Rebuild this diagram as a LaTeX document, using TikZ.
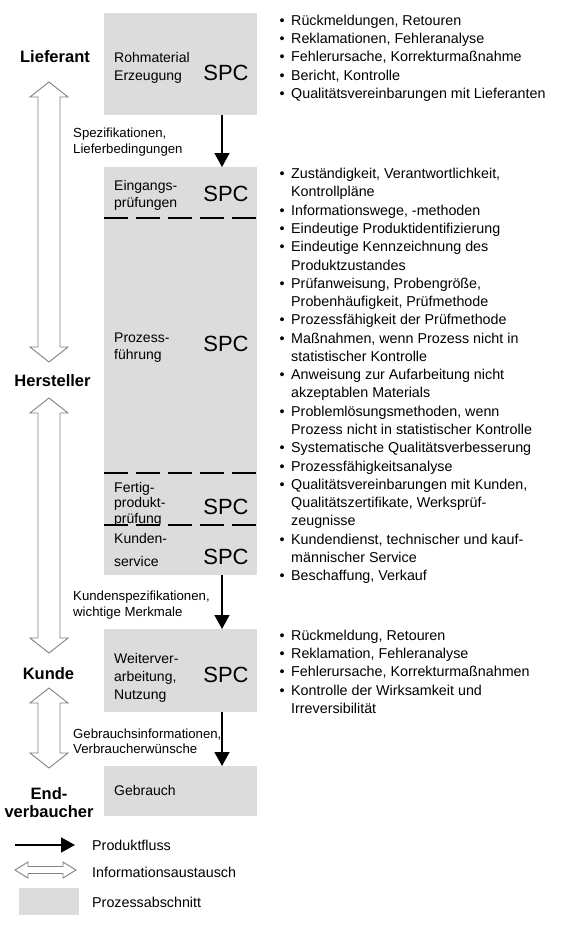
\documentclass[tikz,border=0pt]{standalone}
\usepackage{fontspec}
\setmainfont{Liberation Sans}
\usetikzlibrary{arrows.meta}
\definecolor{boxgray}{RGB}{220,220,220}
\definecolor{infogray}{RGB}{130,130,130}
\newcommand\bu{\makebox[11.5pt][l]{\textbullet}}
\newcommand\ct{\hspace*{11.5pt}}
\newcommand\infoarrowv[3]{%
  \draw[info] (#1,#2) -- ++(19,15) -- ++(-8,0) -- (#1+11,#3-15) -- ++(8,0) -- (#1,#3)
    -- ++(-19,-15) -- ++(8,0) -- (#1-11,#2+15) -- ++(-8,0) -- cycle;}
\begin{document}
\begin{tikzpicture}[x=1pt,y=-1pt,
  box/.style={fill=boxgray, draw=none, inner sep=0pt, anchor=north west},
  flow/.style={draw=black, line width=1.5pt, -{Triangle[width=15pt,length=14pt]}},
  sepline/.style={draw=black, line width=1.3pt, dash pattern=on 24pt off 8pt},
  info/.style={draw=infogray, line width=0.9pt, fill=white},
  txt/.style={anchor=north west, inner sep=0pt, align=left},
  spc/.style={anchor=base, inner sep=0pt, font=\fontsize{22}{22}\selectfont},
  party/.style={anchor=base, inner sep=0pt, font=\fontsize{16.5}{18}\selectfont\bfseries},
  single/.style={anchor=base west, inner sep=0pt, font=\fontsize{14.3}{17}\selectfont}
]
\fill[white] (0,0) rectangle (562,935);
\useasboundingbox (0,0) rectangle (562,935);

% process boxes
\node[box, minimum width=153pt, minimum height=102pt] (b1) at (104,13) {};
\node[box, minimum width=153pt, minimum height=408pt] (b2) at (104,167) {};
\node[box, minimum width=153pt, minimum height=83pt] (b3) at (104,629) {};
\node[box, minimum width=153pt, minimum height=50pt] (b4) at (104,766) {};

% separators
\draw[sepline] (104,218) -- (257,218);
\draw[sepline] (104,473) -- (257,473);
\draw[sepline] (104,525) -- (257,525);

% product flow
\coordinate (ax) at (222,0);
\draw[flow] (b1.south -| ax) -- (b2.north -| ax);
\draw[flow] (b2.south -| ax) -- (b3.north -| ax);
\draw[flow] (b3.south -| ax) -- (b4.north -| ax);

% box labels
\node[txt, font=\fontsize{14}{18}\selectfont] (t1) at (114,49.4) {Rohmaterial\strut\\Erzeugung\strut};
\node[txt, font=\fontsize{14}{17}\selectfont] (t2) at (114,178.1) {Eingangs-\strut\\prüfungen\strut};
\node[txt, font=\fontsize{14}{17}\selectfont] (t3) at (114,330.1) {Prozess-\strut\\führung\strut};
\node[txt, font=\fontsize{14}{15.5}\selectfont] (t4) at (114,481.15) {Fertig-\strut\\produkt-\strut\\prüfung\strut};
\node[txt, font=\fontsize{14}{23}\selectfont] (t5) at (114,526.9) {Kunden-\strut\\service\strut};
\node[txt, font=\fontsize{14}{18}\selectfont] (t6) at (114,650.4) {Weiterver-\strut\\arbeitung,\strut\\Nutzung\strut};
\node[single, font=\fontsize{14}{18}\selectfont] (t7) at (114,795) {Gebrauch};

% SPC
\node[spc] (s1) at (226,80.5) {SPC};
\node[spc] (s2) at (226,201.5) {SPC};
\node[spc] (s3) at (226,351.5) {SPC};
\node[spc] (s4) at (226,514.5) {SPC};
\node[spc] (s5) at (226,564.5) {SPC};
\node[spc] (s6) at (226,682.5) {SPC};

% parties
\node[party] (lief) at (55,62) {Lieferant};
\node[party] (herst) at (52.5,386) {Hersteller};
\node[party] (kunde) at (48.5,679) {Kunde};
\node[party, anchor=north, align=center] (endv) at (49,786.4) {End-\strut\\verbaucher\strut};

% information exchange
\infoarrowv{49}{82}{362}
\infoarrowv{49}{398}{653}
\infoarrowv{49}{688}{768}

% connector labels
\node[txt, font=\fontsize{13.2}{16}\selectfont] (c1) at (73,126.3) {Spezifikationen,\strut\\Lieferbedingungen\strut};
\node[txt, font=\fontsize{13.2}{15.5}\selectfont] (c2) at (73,589.85) {Kundenspezifikationen,\strut\\wichtige Merkmale\strut};
\node[txt, font=\fontsize{13.2}{15.7}\selectfont] (c3) at (73,727) {Gebrauchsinformationen,\strut\\Verbraucherwünsche\strut};

% bullet lists
\node[txt, font=\fontsize{14.3}{18.3}\selectfont] (g1) at (279.5,12.2) {%
\bu Rückmeldungen, Retouren\strut\\
\bu Reklamationen, Fehleranalyse\strut\\
\bu Fehlerursache, Korrekturmaßnahme\strut\\
\bu Bericht, Kontrolle\strut\\
\bu Qualitätsvereinbarungen mit Lieferanten\strut};

\node[txt, font=\fontsize{14.3}{18.27}\selectfont] (g2) at (279.5,165.7) {%
\bu Zuständigkeit, Verantwortlichkeit,\strut\\
\ct Kontrollpläne\strut\\
\bu Informationswege, -methoden\strut\\
\bu Eindeutige Produktidentifizierung\strut\\
\bu Eindeutige Kennzeichnung des\strut\\
\ct Produktzustandes\strut\\
\bu Prüfanweisung, Probengröße,\strut\\
\ct Probenhäufigkeit, Prüfmethode\strut\\
\bu Prozessfähigkeit der Prüfmethode\strut\\
\bu Maßnahmen, wenn Prozess nicht in\strut\\
\ct statistischer Kontrolle\strut\\
\bu Anweisung zur Aufarbeitung nicht\strut\\
\ct akzeptablen Materials\strut\\
\bu Problemlösungsmethoden, wenn\strut\\
\ct Prozess nicht in statistischer Kontrolle\strut\\
\bu Systematische Qualitätsverbesserung\strut\\
\bu Prozessfähigkeitsanalyse\strut\\
\bu Qualitätsvereinbarungen mit Kunden,\strut\\
\ct Qualitätszertifikate, Werksprüf-\strut\\
\ct zeugnisse\strut\\
\bu Kundendienst, technischer und kauf-\strut\\
\ct männischer Service\strut\\
\bu Beschaffung, Verkauf\strut};

\node[txt, font=\fontsize{14.3}{18.3}\selectfont] (g3) at (279.5,627.2) {%
\bu Rückmeldung, Retouren\strut\\
\bu Reklamation, Fehleranalyse\strut\\
\bu Fehlerursache, Korrekturmaßnahmen\strut\\
\bu Kontrolle der Wirksamkeit und\strut\\
\ct Irreversibilität\strut};

% legend
\coordinate (lf1) at (15,845);
\coordinate (lf2) at (75,845);
\draw[flow] (lf1) -- (lf2);
\node[single] (l1) at (92,850) {Produktfluss};
\draw[info] (15,870) -- ++(13,-8) -- ++(0,4.5) -- ++(35,0) -- ++(0,-4.5) -- (76,870)
  -- ++(-13,8) -- ++(0,-4.5) -- ++(-35,0) -- ++(0,4.5) -- cycle;
\node[single] (l2) at (92,877) {Informationsaustausch};
\node[box, minimum width=60pt, minimum height=27pt] (lbox) at (19,888) {};
\node[single] (l3) at (92,907) {Prozessabschnitt};
\end{tikzpicture}
\end{document}
